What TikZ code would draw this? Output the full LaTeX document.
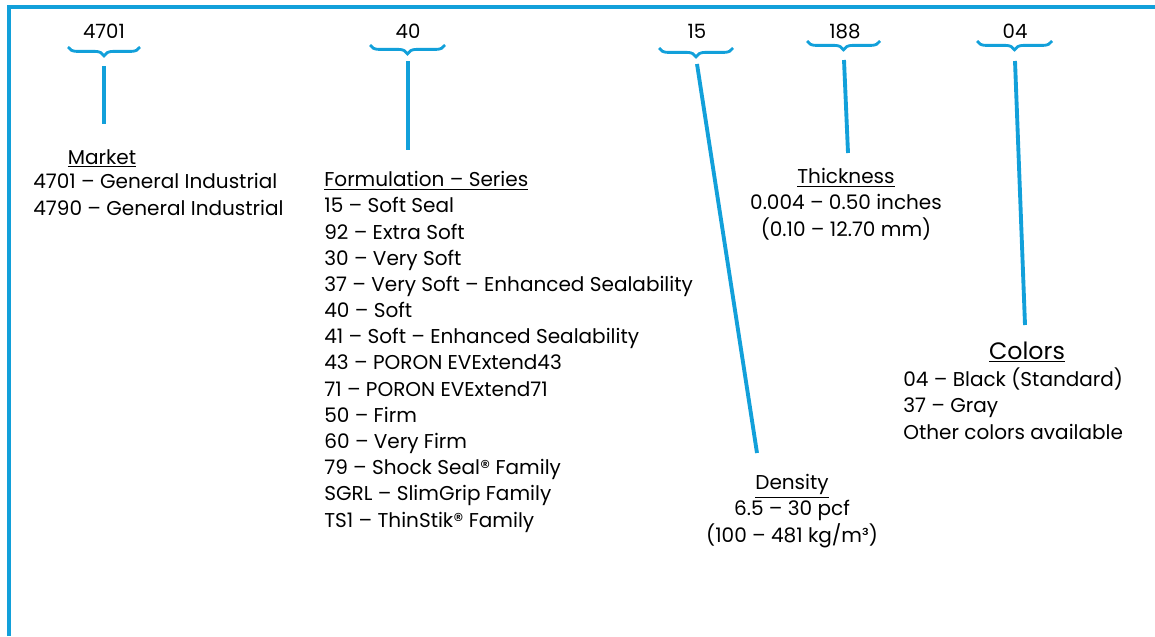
\documentclass[tikz,border=0pt]{standalone}
\usepackage{fontspec}
\setmainfont{Poppins}
\usetikzlibrary{decorations.pathreplacing}
\definecolor{codeblue}{RGB}{18,160,218}

\begin{document}
\begin{tikzpicture}[x=0.02cm, y=-0.02cm,
		num/.style={anchor=base, inner sep=0pt, font=\fontsize{11.2}{12}\selectfont},
		codebrace/.style={draw=codeblue, line width=1.6pt, decorate, decoration={brace, mirror, amplitude=5pt}},
		link/.style={draw=codeblue, line width=2.2pt},
		frame/.style={draw=codeblue, line width=2.2pt},
		txt/.style={inner sep=0pt, font=\fontsize{11.4}{14.9}\selectfont}]
	\useasboundingbox (0,0) rectangle (1155,636);
	\draw[frame] (9,636) -- (9,7) -- (1155,7);
	% part number fields
	\node[num](f4701) at (104,38) {4701};
	\node[num](f40) at (408,38) {40};
	\node[num](f15) at (697,38) {15};
	\node[num](f188) at (845,38) {188};
	\node[num](f04) at (1015,38) {04};
	\draw[codebrace] (68,47) -- (140,47);
	\draw[codebrace] (370,45) -- (445,45);
	\draw[codebrace] (659,48) -- (733,48);
	\draw[codebrace] (807,41) -- (880,41);
	\draw[codebrace] (977,41) -- (1052,41);
	% meanings (multi-line nodes sit on their last baseline)
	\node[txt, anchor=base](market) at (102,164) {\underline{Market}};
	\node[txt, anchor=base west, align=left](marketlist) at (33,215)
		{4701 – General Industrial\\4790 – General Industrial};
	\node[txt, anchor=base west, align=left](series) at (324,527)
		{\underline{Formulation – Series}\\
		15 – Soft Seal\\
		92 – Extra Soft\\
		30 – Very Soft\\
		37 – Very Soft – Enhanced Sealability\\
		40 – Soft\\
		41 – Soft – Enhanced Sealability\\
		43 – PORON EVExtend43\\
		71 – PORON EVExtend71\\
		50 – Firm\\
		60 – Very Firm\\
		79 – Shock Seal® Family\\
		SGRL – SlimGrip Family\\
		TS1 – ThinStik® Family};
	\node[txt, anchor=base, align=center](thick) at (846,236)
		{\underline{Thickness}\\0.004 – 0.50 inches\\(0.10 – 12.70 mm)};
	\node[txt, anchor=base, align=center](density) at (792,542)
		{\underline{Density}\\6.5 – 30 pcf\\(100 – 481 kg/m³)};
	\node[txt, anchor=base, font=\fontsize{13.5}{15}\selectfont](colors) at (1027,359) {\underline{Colors}};
	\node[txt, anchor=base west, align=left](colorlist) at (903,439)
		{04 – Black (Standard)\\37 – Gray\\Other colors available};
	% connectors
	\coordinate (b4701) at (104,66);
	\coordinate (e4701) at (104,124);
	\coordinate (b40) at (408,61);
	\coordinate (e40) at (408,150);
	\coordinate (b15) at (697,64);
	\coordinate (e15) at (757,453);
	\coordinate (b188) at (844,60);
	\coordinate (e188) at (848,153);
	\coordinate (b04) at (1015,61);
	\coordinate (e04) at (1025,325);
	\draw[link] (b4701) -- (e4701);
	\draw[link] (b40) -- (e40);
	\draw[link] (b15) -- (e15);
	\draw[link] (b188) -- (e188);
	\draw[link] (b04) -- (e04);
\end{tikzpicture}
\end{document}
